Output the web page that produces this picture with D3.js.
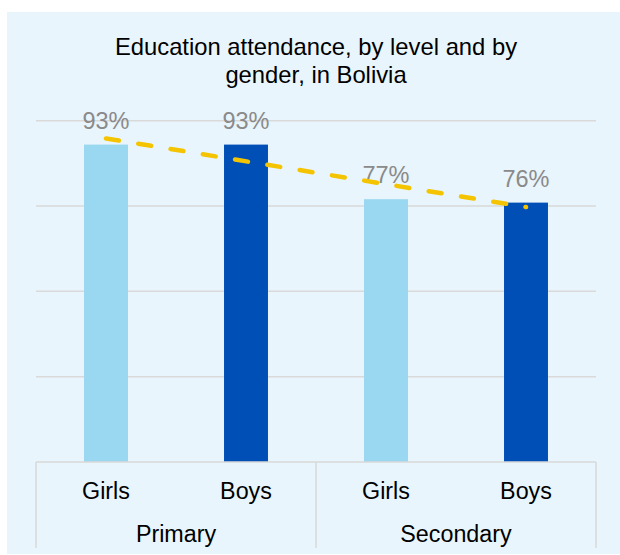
<!DOCTYPE html>
<html>
<head>
<meta charset="utf-8">
<script src="https://cdn.jsdelivr.net/npm/d3@7"></script>
<style>
  html, body { margin: 0; padding: 0; background: #ffffff; }
  svg { display: block; }
  text { font-family: "Liberation Sans", Arial, Helvetica, sans-serif; }
</style>
</head>
<body>
<script>
// ---- data ----
const categories = ["Girls", "Boys", "Girls", "Boys"];
const groups = ["Primary", "Primary", "Secondary", "Secondary"];
const groupNames = ["Primary", "Secondary"];
const values = [93, 93, 77, 76];
const barColors = ["#9AD7F0", "#004FB6", "#9AD7F0", "#004FB6"];
const yTicks = [0, 25, 50, 75, 100];
const titleLines = ["Education attendance, by level and by", "gender, in Bolivia"];

// ---- layout ----
const W = 620, H = 555;
const plot = { left: 36, right: 596, top: 120.7, bottom: 462 };

const svg = d3.select("body").append("svg").attr("width", W).attr("height", H);

svg.append("rect").attr("x", 7).attr("y", 12).attr("width", W - 7).attr("height", 542)
  .attr("fill", "#E9F5FC");

const x = d3.scaleBand().domain(d3.range(values.length))
  .range([plot.left, plot.right]).paddingInner(0.686).paddingOuter(0.343);
const y = d3.scaleLinear().domain([0, 100]).range([plot.bottom, plot.top]);

// title
svg.append("g").selectAll("text").data(titleLines).join("text")
  .attr("x", 316).attr("y", (d, i) => 55 + i * 27.7)
  .attr("text-anchor", "middle").attr("font-size", 23.8).attr("fill", "#000")
  .text(d => d);

// gridlines
svg.append("g").selectAll("line").data(yTicks.filter(t => t > 0)).join("line")
  .attr("x1", plot.left).attr("x2", plot.right)
  .attr("y1", d => y(d)).attr("y2", d => y(d))
  .attr("stroke", "#D9D9D9").attr("stroke-width", 1.5);

// bars
svg.append("g").selectAll("rect").data(values).join("rect")
  .attr("x", (d, i) => x(i)).attr("width", x.bandwidth())
  .attr("y", d => y(d)).attr("height", d => y(0) - y(d))
  .attr("fill", (d, i) => barColors[i]);

// data labels
svg.append("g").selectAll("text").data(values).join("text")
  .attr("x", (d, i) => x(i) + x.bandwidth() / 2)
  .attr("y", d => y(d) - 16)
  .attr("text-anchor", "middle").attr("font-size", 23.5).attr("fill", "#8A8A8A")
  .text(d => d + "%");

// linear trendline (least squares over category index)
const idx = values.map((d, i) => i + 1);
const mx = d3.mean(idx), my = d3.mean(values);
const slope = d3.sum(idx, (xi, i) => (xi - mx) * (values[i] - my)) / d3.sum(idx, xi => (xi - mx) ** 2);
const trend = i => my + slope * (i + 1 - mx);
svg.append("line")
  .attr("x1", x(0) + x.bandwidth() / 2).attr("y1", y(trend(0)))
  .attr("x2", x(values.length - 1) + x.bandwidth() / 2).attr("y2", y(trend(values.length - 1)))
  .attr("stroke", "#F5C400").attr("stroke-width", 4.5)
  .attr("stroke-linecap", "round").attr("stroke-dasharray", "13,19.7");

// category axis
const axisColor = "#D9D9D9";
svg.append("line").attr("x1", plot.left).attr("x2", plot.right)
  .attr("y1", plot.bottom).attr("y2", plot.bottom)
  .attr("stroke", axisColor).attr("stroke-width", 1.5);

const groupBounds = groupNames.map(g => {
  const ids = d3.range(values.length).filter(i => groups[i] === g);
  return { name: g, x0: x(ids[0]) - x.step() * x.paddingInner() / 2, x1: x(ids[ids.length - 1]) + x.bandwidth() + x.step() * x.paddingInner() / 2 };
});
const seps = [plot.left, ...groupBounds.slice(0, -1).map(b => b.x1), plot.right];
svg.append("g").selectAll("line").data(seps).join("line")
  .attr("x1", d => d).attr("x2", d => d).attr("y1", plot.bottom).attr("y2", 548)
  .attr("stroke", axisColor).attr("stroke-width", 1.5);

svg.append("g").selectAll("text").data(categories).join("text")
  .attr("x", (d, i) => x(i) + x.bandwidth() / 2).attr("y", 499)
  .attr("text-anchor", "middle").attr("font-size", 23.3).attr("fill", "#000")
  .text(d => d);

svg.append("g").selectAll("text").data(groupBounds).join("text")
  .attr("x", d => (d.x0 + d.x1) / 2).attr("y", 542)
  .attr("text-anchor", "middle").attr("font-size", 23.3).attr("fill", "#000")
  .text(d => d.name);
</script>
</body>
</html>
